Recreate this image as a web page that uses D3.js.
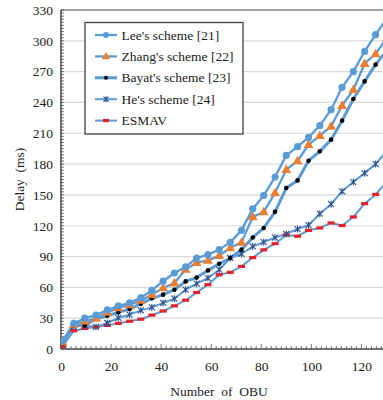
<!DOCTYPE html>
<html><head><meta charset="utf-8">
<script src="https://cdn.jsdelivr.net/npm/d3@7"></script>
<style>
html,body{margin:0;padding:0;background:#fff;}
svg text{font-family:"Liberation Serif","Times New Roman","DejaVu Serif",serif !important;}
</style></head>
<body>
<svg id="chart" width="383" height="400"></svg>
<script>
const obu = [0.6,5.1,9.5,14.0,18.5,22.9,27.4,31.9,36.3,40.8,45.3,49.8,54.2,58.7,63.2,67.6,72.1,76.6,81.0,85.5,90.0,94.5,98.9,103.4,107.9,112.3,116.8,121.3,125.7,130.2];
const lee   = [8,25,30,33,38,42,45,50,57,66,74,80,88.6,91.8,96.7,103.8,115.5,136.5,149.5,167.4,188.5,197,206,217.5,233,254.7,270,289.7,306,322];
const zhang = [7,24,27,30,35.6,40,43,47.3,53,59.4,64.2,77.5,84,86.3,90.8,98.5,103.8,128.5,133.5,152,174.6,183,199,207.6,216.7,237,252.4,277.7,287.2,303];
const bayat = [5.8,23,23,29.2,32.4,35.6,38.9,44.1,49.3,52.9,57.7,65.8,69.5,76.5,83,88.6,96.7,108.5,117.8,133.5,156.7,164.1,183.3,192.4,203.8,222.3,243.4,260.5,276.8,291];
const he    = [6,22,23,21.5,25.3,30.2,33.4,37.6,40.5,44.8,49,57.7,63.6,69.1,77.2,88.6,92.5,99.8,104,108.5,112,116.8,120.5,131.7,141,153.5,162.5,171.2,180,193];
const esmav = [2.5,17.8,20,21.5,23,25,27,29,33,37,42,47.5,55,62.6,72.3,74.6,80.4,89,96.5,102.5,111,109.8,115.5,117.8,122.7,120.2,128.5,141.5,150.5,163];
const seriesNames = ["Lee's scheme [21]","Zhang's scheme [22]","Bayat's scheme [23]","He's scheme [24]","ESMAV"];
const yTicks = [0,30,60,90,120,150,180,210,240,270,300,330];
const xTicks = [0,20,40,60,80,100,120];
const xTitle = "Number  of  OBU";
const yTitle = "Delay  (ms)";

const FONT = '"Liberation Serif","Times New Roman","DejaVu Serif",serif';
const svg = d3.select("#chart");
const L = 61, T = 10, B = 349, R = 383;
const x = d3.scaleLinear().domain([0,130]).range([61,386.4]);
const y = d3.scaleLinear().domain([0,330]).range([349,10]);

svg.append("defs").append("clipPath").attr("id","clip")
  .append("rect").attr("x",L).attr("y",T-2).attr("width",R-L+10).attr("height",B-T+4);

// gridlines
svg.append("g").selectAll("line").data(yTicks.filter(d=>d>0 && d<330)).join("line")
  .attr("x1",L).attr("x2",R).attr("y1",d=>y(d)).attr("y2",d=>y(d))
  .attr("stroke","#d9d9d9").attr("stroke-width",1.2);

// top border
svg.append("line").attr("x1",L).attr("x2",R).attr("y1",T).attr("y2",T)
  .attr("stroke","#808080").attr("stroke-width",1.5);

// y axis
const yAxis = d3.axisLeft(y).tickValues(yTicks).tickSize(0).tickPadding(8);
const gy = svg.append("g").attr("transform",`translate(${L},0)`).call(yAxis);
gy.attr("font-family",FONT);
gy.select(".domain").remove();
gy.selectAll("text").attr("font-size",13.5).attr("fill","#222").style("font-family",FONT);

// y minor ticks (inside)
const yMinor = d3.range(0,331,3);
svg.append("g").selectAll("line").data(yMinor).join("line")
  .attr("x1",L).attr("x2",L+3).attr("y1",d=>y(d)).attr("y2",d=>y(d))
  .attr("stroke","#555").attr("stroke-width",0.8);

// x axis
const xAxis = d3.axisBottom(x).tickValues(xTicks).tickSize(0).tickPadding(12);
const gx = svg.append("g").attr("transform",`translate(0,${B})`).call(xAxis);
gx.attr("font-family",FONT);
gx.select(".domain").remove();
gx.selectAll("text").attr("font-size",13.5).attr("fill","#222").style("font-family",FONT);

const xMinor = d3.range(0,132,2);
svg.append("g").selectAll("line").data(xMinor).join("line")
  .attr("x1",d=>x(d)).attr("x2",d=>x(d)).attr("y1",B).attr("y2",d=> d%20===0 ? B-5 : B-3)
  .attr("stroke","#555").attr("stroke-width",0.8);

// axis lines
svg.append("line").attr("x1",L).attr("x2",L).attr("y1",T).attr("y2",B).attr("stroke","#444").attr("stroke-width",1.5);
svg.append("line").attr("x1",L).attr("x2",R).attr("y1",B).attr("y2",B).attr("stroke","#444").attr("stroke-width",1.5);

// titles
svg.append("text").attr("x",219).attr("y",396).attr("text-anchor","middle")
  .attr("font-size",13.5).attr("fill","#222").style("font-family",FONT).style("white-space","pre").text(xTitle);
svg.append("text").attr("transform",`translate(24,${(T+B)/2}) rotate(-90)`).attr("text-anchor","middle")
  .attr("font-size",13.5).attr("fill","#222").style("font-family",FONT).style("white-space","pre").text(yTitle);

// series
const lineColor = "#5b9bd5";
const data = [lee,zhang,bayat,he,esmav];
const widths = [2.3,2.3,3,2,2];
const line = d3.line().x((d,i)=>x(obu[i])).y(d=>y(d));
const plot = svg.append("g").attr("clip-path","url(#clip)");

function drawMarker(g, k, cx, cy, scale=1){
  if(k===0){
    g.append("circle").attr("cx",cx).attr("cy",cy).attr("r",3.6*scale).attr("fill","#5b9bd5");
  } else if(k===1){
    g.append("path").attr("d",d3.symbol(d3.symbolTriangle,42*scale*scale)()).attr("transform",`translate(${cx},${cy+0.5})`).attr("fill","#ed7d31");
  } else if(k===2){
    g.append("circle").attr("cx",cx).attr("cy",cy).attr("r",2.3*scale).attr("fill","#000");
  } else if(k===3){
    const s=3*scale;
    g.append("path").attr("d",`M${cx-s},${cy-s}L${cx+s},${cy+s}M${cx-s},${cy+s}L${cx+s},${cy-s}M${cx},${cy-s-0.5}L${cx},${cy+s+0.5}`)
      .attr("stroke","#2f4f8f").attr("stroke-width",1.1).attr("fill","none");
  } else {
    g.append("rect").attr("x",cx-3.5*scale).attr("y",cy-1.6).attr("width",7*scale).attr("height",3.2).attr("fill","#e8202a");
  }
}

data.forEach((vals,k)=>{
  plot.append("path").datum(vals).attr("d",line).attr("fill","none")
    .attr("stroke",lineColor).attr("stroke-width",widths[k]).attr("stroke-linejoin","round");
});
[4,3,2,1,0].forEach(k=>{
  const g = plot.append("g");
  data[k].forEach((v,i)=>drawMarker(g,k,x(obu[i]),y(v)));
});

// legend
const lg = svg.append("g");
lg.append("rect").attr("x",85).attr("y",22.5).attr("width",158).attr("height",111.5)
  .attr("fill","#fff").attr("stroke","#404040").attr("stroke-width",1.3);
seriesNames.forEach((n,k)=>{
  const yy = 35 + k*21.4;
  lg.append("line").attr("x1",95).attr("x2",117).attr("y1",yy).attr("y2",yy)
    .attr("stroke",lineColor).attr("stroke-width",widths[k]);
  drawMarker(lg,k,106,yy,0.85);
  lg.append("text").attr("x",121.5).attr("y",yy+4.5).attr("font-size",13.5).attr("fill","#222").style("font-family",FONT).text(n);
});
</script>
</body></html>
